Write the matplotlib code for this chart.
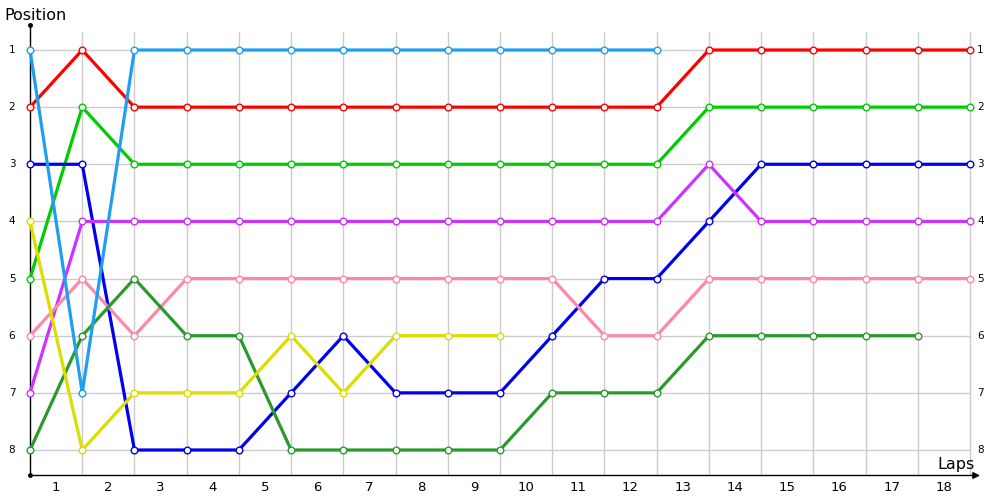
import matplotlib
matplotlib.use("Agg")
import matplotlib.pyplot as plt

laps = list(range(0, 19))
lap_labels = [str(i) for i in range(1, 19)]
positions = [1, 2, 3, 4, 5, 6, 7, 8]

series_colors = ["#FF0000", "#00CC00", "#0000EE", "#CC33FF", "#FF88AA",
                 "#2A9A2A", "#DDDD00", "#1E9FF0"]
red = [2, 1, 2, 2, 2, 2, 2, 2, 2, 2, 2, 2, 2, 1, 1, 1, 1, 1, 1]
green = [5, 2, 3, 3, 3, 3, 3, 3, 3, 3, 3, 3, 3, 2, 2, 2, 2, 2, 2]
blue = [3, 3, 8, 8, 8, 7, 6, 7, 7, 7, 6, 5, 5, 4, 3, 3, 3, 3, 3]
purple = [7, 4, 4, 4, 4, 4, 4, 4, 4, 4, 4, 4, 4, 3, 4, 4, 4, 4, 4]
pink = [6, 5, 6, 5, 5, 5, 5, 5, 5, 5, 5, 6, 6, 5, 5, 5, 5, 5, 5]
darkgreen = [8, 6, 5, 6, 6, 8, 8, 8, 8, 8, 7, 7, 7, 6, 6, 6, 6, 6]
yellow = [4, 8, 7, 7, 7, 6, 7, 6, 6, 6]
lightblue = [1, 7, 1, 1, 1, 1, 1, 1, 1, 1, 1, 1, 1]
series = [red, green, blue, purple, pink, darkgreen, yellow, lightblue]

fig = plt.figure(figsize=(10, 5), dpi=100)
ax = fig.add_axes([0, 0, 1, 1])
pxx = (970 - 30) / 18.0
pxy = 400 / 7.0
ax.set_xlim(-30 / pxx, 18 + 30 / pxx)
ax.set_ylim(8 + 50 / pxy, 1 - 50 / pxy)
ax.axis("off")

def py(p):
    return 1 + (p - 50) / pxy

def px(p):
    return (p - 30) / pxx

ybot = py(475.5)
ytop_grid = py(32)
for x in laps[1:]:
    ax.plot([x, x], [ytop_grid, ybot], color="#CCCCCC", lw=1, zorder=1)
for p in positions:
    ax.plot([0, 18], [p, p], color="#CCCCCC", lw=1, zorder=1)

# axes
ax.plot([0, 0], [py(25), ybot], color="black", lw=1, zorder=2)
ax.plot([0], [py(25)], marker="o", ms=2.5, color="black", zorder=2)
ax.plot([0], [ybot], marker="o", ms=2.5, color="black", zorder=2)
ax.annotate("", xy=(px(980), ybot), xytext=(0, ybot),
            arrowprops=dict(arrowstyle="-|>", color="black", lw=1,
                            mutation_scale=10, shrinkA=0, shrinkB=0), zorder=2)

for i, (vals, c) in enumerate(zip(series, series_colors)):
    xs = laps[:len(vals)]
    ax.plot(xs, vals, color=c, lw=2.3, zorder=3 + i,
            marker="o", ms=4.8, mfc="white", mec=c, mew=1.0)

for p in positions:
    ax.text(px(12), p, str(p), ha="center", va="center", fontsize=7.5, color="black")
    ax.text(px(977), p, str(p), ha="left", va="center", fontsize=7.5, color="black")

for i, lab in enumerate(lap_labels):
    ax.text(i + 0.5, py(488), lab, ha="center", va="center", fontsize=9.5, color="black")

ax.text(px(4), py(15), "Position", ha="left", va="center", fontsize=11.5, color="black")
ax.text(px(975), py(465), "Laps", ha="right", va="center", fontsize=11.5, color="black")

fig.savefig("out.png", dpi=100, facecolor="white")
